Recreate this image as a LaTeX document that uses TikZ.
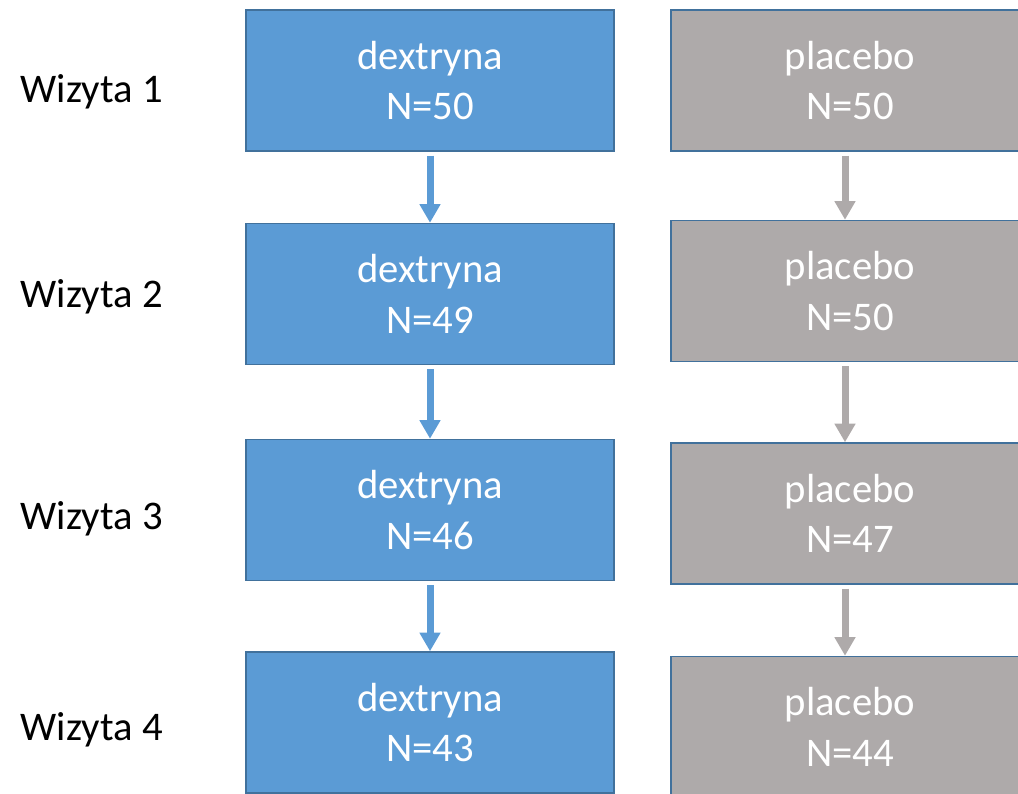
\documentclass[tikz,border=0pt]{standalone}
\usepackage{fontspec}
\setmainfont{Carlito}
\usetikzlibrary{arrows.meta}
\definecolor{dexblue}{HTML}{5B9BD5}
\definecolor{plgray}{HTML}{AEAAAA}
\definecolor{edgeblue}{HTML}{41719C}
\begin{document}
\begin{tikzpicture}[x=0.75pt,y=-0.75pt,
    box/.style={draw=edgeblue,line width=1.1pt,text=white,align=center,inner sep=0pt,
        minimum height=105.75pt,font=\fontsize{30.5}{38}\selectfont},
    dexbox/.style={box,fill=dexblue,minimum width=276pt},
    plbox/.style={box,fill=plgray,minimum width=268.5pt},
    flow/.style={line width=5.25pt,shorten <=3pt,-{Triangle[width=15pt,length=14pt]}},
    visit/.style={anchor=base west,font=\fontsize{30.5}{38}\selectfont}]
    \useasboundingbox (0,0) rectangle (1018,793);

    % visits
    \node[visit] (w1) at (16,102) {Wizyta 1};
    \node[visit] (w2) at (16,307) {Wizyta 2};
    \node[visit] (w3) at (16,529) {Wizyta 3};
    \node[visit] (w4) at (16,740) {Wizyta 4};

    % dextryna
    \node[dexbox] (d1) at (430,80.5) {dextryna\\N=50};
    \node[dexbox] (d2) at (430,294) {dextryna\\N=49};
    \node[dexbox] (d3) at (430,510) {dextryna\\N=46};
    \node[dexbox] (d4) at (430,722.5) {dextryna\\N=43};

    % placebo
    \node[plbox] (p1) at (850,80.5) {placebo\\N=50};
    \node[plbox] (p2) at (850,291) {placebo\\N=50};
    \node[plbox] (p3) at (850,513.5) {placebo\\N=47};
    \node[plbox] (p4) at (850,727) {placebo\\N=44};

    \foreach \a/\b in {1/2,2/3,3/4}
        \draw[flow,dexblue] (d\a.south) -- (d\b.north);
    \foreach \a/\b in {1/2,2/3,3/4}
        \draw[flow,plgray] ([xshift=-3.75pt]p\a.south) -- ([xshift=-3.75pt]p\b.north);
\end{tikzpicture}
\end{document}
